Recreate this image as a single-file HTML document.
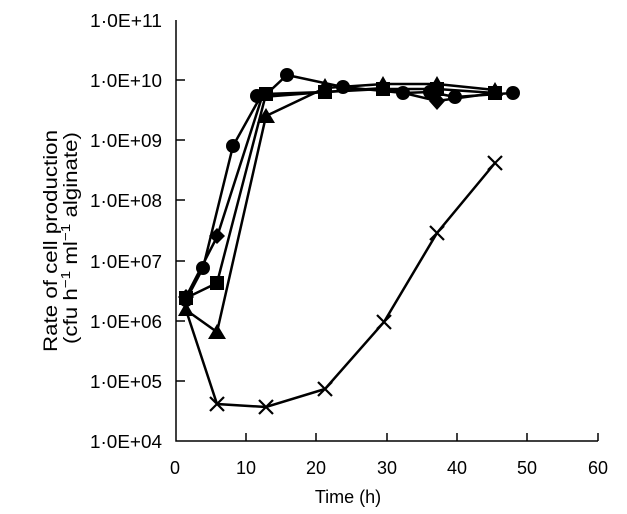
<!DOCTYPE html>
<html><head><meta charset="utf-8"><style>body{margin:0;background:#fff}svg{display:block}</style></head><body>
<svg width="627" height="514" xmlns="http://www.w3.org/2000/svg" font-family="Liberation Sans, Arial, sans-serif" font-size="18">
<rect width="627" height="514" fill="#fff"/>
<g stroke="#000" stroke-width="1.5" fill="none">
<path d="M176,20V441H598"/>
<path d="M176,80h9M176,140h9M176,200h9M176,261h9M176,321h9M176,381h9"/>
<path d="M246,441v-8M316,441v-8M387,441v-8M457,441v-8M527,441v-8M598,441v-8"/>
</g>
<g fill="#000">
<text x="90" y="27" textLength="72" lengthAdjust="spacingAndGlyphs">1·0E+11</text>
<text x="90" y="87" textLength="72" lengthAdjust="spacingAndGlyphs">1·0E+10</text>
<text x="90" y="147" textLength="72" lengthAdjust="spacingAndGlyphs">1·0E+09</text>
<text x="90" y="207" textLength="72" lengthAdjust="spacingAndGlyphs">1·0E+08</text>
<text x="90" y="268" textLength="72" lengthAdjust="spacingAndGlyphs">1·0E+07</text>
<text x="90" y="328" textLength="72" lengthAdjust="spacingAndGlyphs">1·0E+06</text>
<text x="90" y="388" textLength="72" lengthAdjust="spacingAndGlyphs">1·0E+05</text>
<text x="90" y="448" textLength="72" lengthAdjust="spacingAndGlyphs">1·0E+04</text>
</g>
<g text-anchor="middle" fill="#000">
<text x="175" y="474">0</text><text x="246" y="474">10</text><text x="316" y="474">20</text><text x="387" y="474">30</text><text x="457" y="474">40</text><text x="527" y="474">50</text><text x="598" y="474">60</text>
<text x="348" y="503">Time (h)</text>
</g>
<g fill="#000" font-size="19">
<text transform="translate(57,352) rotate(-90)" x="0" y="0" textLength="222" lengthAdjust="spacingAndGlyphs">Rate of cell production</text>
<text transform="translate(77,344) rotate(-90)" x="0" y="0" textLength="212" lengthAdjust="spacingAndGlyphs">(cfu h<tspan dy="-7" font-size="13">−1</tspan><tspan dy="7"> ml</tspan><tspan dy="-7" font-size="13">−1</tspan><tspan dy="7"> alginate)</tspan></text>
</g>
<g stroke="#000" stroke-width="2.5" fill="none">
<polyline points="186,300 203,268 233,146 257,103 287,75 343,87 403,93 430,92 455,97 513,93"/>
<polyline points="186,298 217,283 266,94 325,92 383,89 437,89 495,93"/>
<polyline points="186,297 217,237 262,97 325,92 383,88 437,101 495,93"/>
<polyline points="186,310 217,332 266,116 325,88 383,84 437,84 495,90"/>
<polyline points="186,310 217,404 266,407 325,389 384,322 437,233 495,163"/>
</g>
<g fill="#000">
<circle cx="186" cy="300" r="7"/><circle cx="203" cy="268" r="7"/><circle cx="233" cy="146" r="7"/><circle cx="257" cy="96" r="7"/><circle cx="287" cy="75" r="7"/><circle cx="343" cy="87" r="7"/><circle cx="403" cy="93" r="7"/><circle cx="430" cy="92" r="7"/><circle cx="455" cy="97" r="7"/><circle cx="513" cy="93" r="7"/>
<g transform="translate(-7,-7)"><rect x="186" y="298" width="14" height="14"/><rect x="217" y="283" width="14" height="14"/><rect x="266" y="94" width="14" height="14"/><rect x="325" y="92" width="14" height="14"/><rect x="383" y="89" width="14" height="14"/><rect x="437" y="89" width="14" height="14"/><rect x="495" y="93" width="14" height="14"/></g>
<path d="M186,289l8,8-8,8-8-8zM217,228l8,8-8,8-8-8zM437,92l8,9-8,9-8-9z"/>
<path d="M186,302l8,14h-16zM217,324l9,15h-18zM266,108l9,15h-18zM325,78l8,14h-16zM383,76l8,14h-16zM437,76l8,14h-16zM495,82l8,14h-16z"/>
</g>
<g stroke="#000" stroke-width="2.2">
<path d="M210,397l14,14M224,397l-14,14M259,400l14,14M273,400l-14,14M318,382l14,14M332,382l-14,14M377,315l14,14M391,315l-14,14M430,226l14,14M444,226l-14,14M488,156l14,14M502,156l-14,14"/>
</g>
</svg>
</body></html>
